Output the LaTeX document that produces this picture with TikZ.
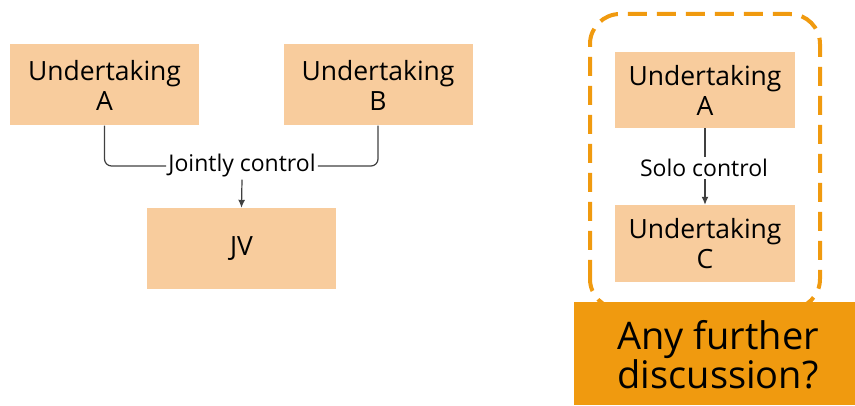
\documentclass[tikz,border=0pt]{standalone}
\usepackage{fontspec}
\setmainfont{Open Sans}
\usetikzlibrary{arrows.meta}

\definecolor{boxfill}{HTML}{F8CC9D}
\definecolor{askfill}{HTML}{F09A0F}
\definecolor{linegray}{HTML}{404040}

\begin{document}
\begin{tikzpicture}[x=1pt, y=1pt,
	unit/.style={fill=boxfill, minimum width=189pt, minimum height=81pt,
		align=center, inner sep=0pt, font=\fontsize{26.5}{30}\selectfont},
	ctrl/.style={fill=white, inner sep=2pt, font=\fontsize{23}{25}\selectfont},
	link/.style={draw=linegray, line width=1.2pt, rounded corners=7pt},
	tip/.style={draw=linegray, line width=1.2pt, -{Latex[length=8pt,width=7pt]}}]
	\useasboundingbox (0,0) rectangle (855,405);

	% joint control
	\node[unit] (ua) at (104.5,320) {Undertaking\\A};
	\node[unit] (ub) at (378,320) {Undertaking\\B};
	\node[unit] (jv) at (241.5,156.5) {JV};
	\node[ctrl] (joint) at (242,239) {Jointly control};
	\draw[link] (ua.south) |- (joint.west);
	\draw[link] (ub.south) |- (joint.east);
	\draw[tip] (joint.south) -- (jv.north);

	% solo control
	\draw[askfill, line width=4pt, dash pattern=on 19pt off 10pt, rounded corners=30pt]
		(590,96) rectangle (820,391);
	\node[unit, minimum width=180pt, minimum height=76pt] (sa) at (705,315) {Undertaking\\A};
	\node[unit, minimum width=180pt, minimum height=77pt] (sc) at (705,161.5) {Undertaking\\C};
	\node[ctrl] (solo) at (704,237) {Solo control};
	\draw[link] (sa.south) -- (sa.south |- solo.north);
	\draw[tip] (sc.north |- solo.south) -- (sc.north);

	\fill[askfill] (574,0) rectangle (855,103);
	\node[align=center, font=\fontsize{38}{36}\selectfont] (ask) at (718,50)
		{Any further\\discussion?};
\end{tikzpicture}
\end{document}
